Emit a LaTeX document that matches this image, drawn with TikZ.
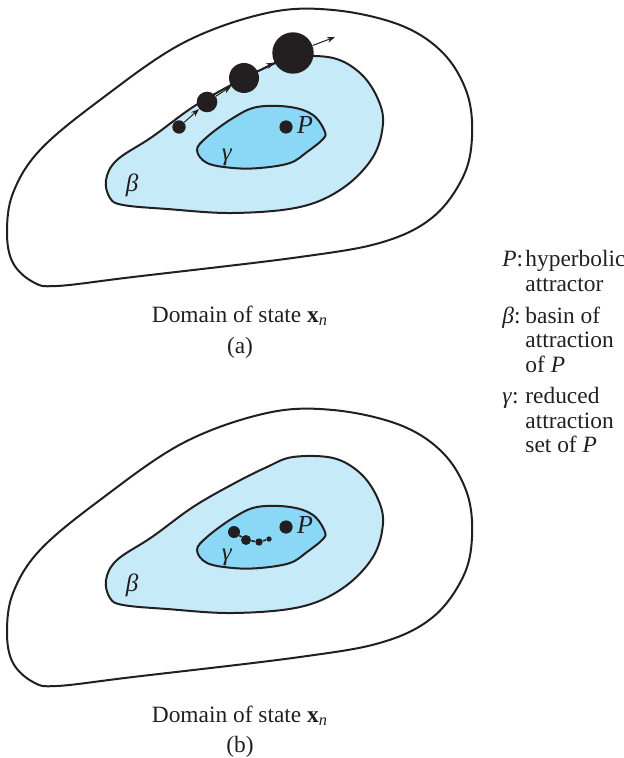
\documentclass[tikz,border=0pt]{standalone}
\usepackage{fontspec}
\setmainfont{Liberation Serif}
\usetikzlibrary{arrows.meta}
\definecolor{basinblue}{RGB}{199,234,249}
\definecolor{gammablue}{RGB}{138,216,246}
\definecolor{inkblack}{RGB}{35,31,32}
\begin{document}
\begin{tikzpicture}[x=0.5pt,y=-0.5pt,
  outline/.style={draw=inkblack,line width=1pt},
  dotnode/.style={circle,fill=inkblack,draw=none,inner sep=0pt},
  lbl/.style={inner sep=0pt,font=\fontsize{11.7}{14}\selectfont,text=inkblack},
  leg/.style={lbl,anchor=base west},
  arr/.style={draw=inkblack,line width=0.5pt,-{Stealth[length=4pt,width=3pt]}},
  link/.style={draw=inkblack,line width=0.8pt}
]
\useasboundingbox (0,0) rectangle (624,758);

\foreach \dy/\tag in {0/a,400/b}{
\begin{scope}[shift={(0,\dy)}]
  % domain outline
  \draw[outline,fill=white] plot[smooth cycle,tension=0.6] coordinates {
    (7,233) (13,193) (40,150) (100,100) (183,43) (267,13) (333,10) (400,25)
    (443,53) (467,93) (472,137) (463,177) (433,217) (383,242) (300,257)
    (133,277) (57,286) (33,282) (13,263)};
  % basin beta
  \draw[outline,fill=basinblue] plot[smooth cycle,tension=0.6] coordinates {
    (293,57) (333,58) (360,73) (377,97) (383,123) (373,157) (343,188)
    (300,207) (233,213) (167,209) (123,205) (110,198) (106,180) (117,160)
    (152,137) (193,107) (233,84) (267,67)};
  % reduced set gamma
  \draw[outline,fill=gammablue] plot[smooth cycle,tension=0.6] coordinates {
    (197,150) (207,137) (233,118) (257,107) (290,107) (313,115) (325,132)
    (322,140) (307,152) (290,163) (260,168) (233,168) (207,163)};
  \node[lbl,font=\fontsize{12.5}{15}\selectfont] (beta\tag) at (132,185) {\textit{β}};
  \node[lbl,font=\fontsize{12.5}{15}\selectfont] (gamma\tag) at (227,157) {\textit{γ}};
  \node[dotnode,minimum size=6.6pt] (P\tag) at (286,127) {};
  \node[lbl,font=\fontsize{13}{15}\selectfont] (Plab\tag) at (305,125) {\textit{P}};
\end{scope}
}

% (a) trajectory leaving the basin
\node[dotnode,minimum size=6.7pt] (a1) at (179,127) {};
\node[dotnode,minimum size=10.3pt] (a2) at (207,102) {};
\node[dotnode,minimum size=15pt] (a3) at (244,78) {};
\node[dotnode,minimum size=20.7pt] (a4) at (293,53) {};
\coordinate (aend) at (335,37);
\draw[arr] (a1) -- (a2);
\draw[arr] (a2) -- (a3);
\draw[arr] (a3) -- (a4);
\draw[arr] (a4) -- (aend);

% (b) trajectory inside gamma
\node[dotnode,minimum size=6pt] (b1) at (234,532) {};
\node[dotnode,minimum size=5pt] (b2) at (246,540) {};
\node[dotnode,minimum size=3.7pt] (b3) at (259,542) {};
\node[dotnode,minimum size=2.7pt] (b4) at (269,539) {};
\draw[link] (b1) -- (b2);
\draw[link] (b2) -- (b3);
\draw[link] (b3) -- (b4);

% captions
\node[lbl,anchor=base] (capa) at (240,322) {Domain of state \textbf{x}\textsubscript{\textit{n}}};
\node[lbl,anchor=base] (suba) at (240,353) {(a)};
\node[lbl,anchor=base] (capb) at (240,722) {Domain of state \textbf{x}\textsubscript{\textit{n}}};
\node[lbl,anchor=base] (subb) at (240,752) {(b)};

% legend
\node[leg] (k1) at (502,267) {\textit{P}:};
\node[leg] (l1) at (525,267) {hyperbolic};
\node[leg] (l2) at (525,292) {attractor};
\node[leg] (k2) at (502,323) {\textit{β}:};
\node[leg] (l3) at (525,323) {basin of};
\node[leg] (l4) at (525,347) {attraction};
\node[leg] (l5) at (525,372) {of \textit{P}};
\node[leg] (k3) at (502,403) {\textit{γ}:};
\node[leg] (l6) at (525,403) {reduced};
\node[leg] (l7) at (525,428) {attraction};
\node[leg] (l8) at (525,452) {set of \textit{P}};
\end{tikzpicture}
\end{document}
